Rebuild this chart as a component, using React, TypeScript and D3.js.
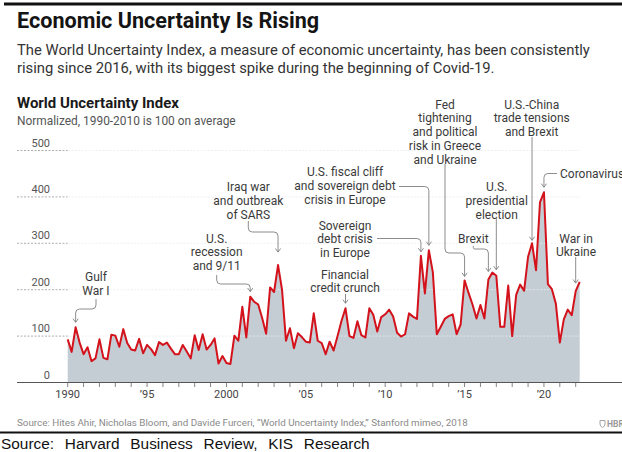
import React from "react";
import * as d3 from "d3";

// World Uncertainty Index, quarterly, 1990Q1 – 2022Q2
const START_YEAR = 1990;
const WUI_VALUES = [
  93, 66, 119, 86, 61, 76, 46, 52, 93, 53,
  50, 103, 101, 77, 115, 85, 71, 69, 94, 63,
  81, 72, 59, 87, 81, 86, 73, 61, 61, 81,
  67, 52, 102, 70, 104, 71, 81, 95, 41, 57,
  42, 40, 101, 90, 163, 97, 185, 174, 168, 139,
  105, 205, 195, 253, 200, 90, 117, 74, 106, 98,
  88, 86, 149, 90, 85, 61, 88, 69, 100, 133,
  160, 100, 96, 132, 102, 97, 160, 146, 110, 141,
  147, 157, 142, 107, 99, 104, 149, 142, 137, 273,
  192, 285, 238, 104, 120, 137, 143, 147, 104, 125,
  220, 193, 168, 138, 167, 138, 222, 237, 230, 120,
  120, 209, 100, 189, 211, 198, 271, 300, 242, 388,
  410, 212, 201, 170, 86, 136, 157, 145, 197, 217,
];

const Y_TICKS = [0, 100, 200, 300, 400, 500];
const X_TICK_YEARS = d3.range(1990, 2023);
const X_LABELS: [number, string][] = [
  [1990, "1990"],
  [1995, "\u201995"],
  [2000, "2000"],
  [2005, "\u201905"],
  [2010, "\u201910"],
  [2015, "\u201915"],
  [2020, "\u201920"],
];

// Event call-outs: which quarter they point at and their text
const EVENT_LABELS: string[][] = [
  ["Gulf", "War I"],
  ["U.S.", "recession", "and 9/11"],
  ["Iraq war", "and outbreak", "of SARS"],
  ["U.S. fiscal cliff", "and sovereign debt", "crisis in Europe"],
  ["Sovereign", "debt crisis", "in Europe"],
  ["Financial", "credit crunch"],
  ["Fed", "tightening", "and political", "risk in Greece", "and Ukraine"],
  ["U.S.-China", "trade tensions", "and Brexit"],
  ["Coronavirus"],
  ["U.S.", "presidential", "election"],
  ["Brexit"],
  ["War in", "Ukraine"],
];
const EVENT_QUARTER_INDEX = [2, 46, 53, 91, 89, 70, 100, 117, 120, 108, 106, 128];

// Layout of each call-out: text anchor, baseline and leader route
type Layout = {
  tx: number;
  ty: number;
  anchor: "middle" | "start";
  sx: number | null; // leader start x (null = straight above the tip)
  sy: number;
  my: number; // y of the horizontal run
  gap: number; // distance from tip to the line
};
const LAYOUT: Layout[] = [
  { tx: 96, ty: 281, anchor: "middle", sx: 96, sy: 299, my: 309, gap: 5 },
  { tx: 216.7, ty: 242.5, anchor: "middle", sx: 216.7, sy: 275, my: 284, gap: 5 },
  { tx: 248.3, ty: 191, anchor: "middle", sx: 248.3, sy: 221, my: 232, gap: 13 },
  { tx: 345, ty: 176, anchor: "middle", sx: 399, sy: 186.5, my: 186.5, gap: 5 },
  { tx: 345, ty: 229.5, anchor: "middle", sx: 377, sy: 238.5, my: 238.5, gap: 4 },
  { tx: 345, ty: 278.5, anchor: "middle", sx: null, sy: 294, my: 294, gap: 5 },
  { tx: 445, ty: 108.5, anchor: "middle", sx: 445, sy: 164, my: 253, gap: 4 },
  { tx: 531.7, ty: 108.5, anchor: "middle", sx: null, sy: 137, my: 137, gap: 3 },
  { tx: 560, ty: 177.5, anchor: "start", sx: 557, sy: 173.5, my: 173.5, gap: 5 },
  { tx: 496.7, ty: 191, anchor: "middle", sx: null, sy: 218, my: 218, gap: 6 },
  { tx: 473.3, ty: 242.5, anchor: "middle", sx: 473.3, sy: 246, my: 249, gap: 8 },
  { tx: 576, ty: 242.5, anchor: "middle", sx: null, sy: 257, my: 257, gap: 8 },
];

const W = 622;
const H = 452;
const FONT = "Roboto, 'Noto Sans', sans-serif";

function roundedPath(raw: [number, number][], r: number): string {
  const pts: [number, number][] = [];
  raw.forEach((p) => {
    const last = pts[pts.length - 1];
    if (!last || Math.abs(last[0] - p[0]) > 0.01 || Math.abs(last[1] - p[1]) > 0.01) pts.push(p);
  });
  let d = `M${pts[0][0]},${pts[0][1]}`;
  for (let k = 1; k < pts.length - 1; k++) {
    const [x0, y0] = pts[k - 1];
    const [x1, y1] = pts[k];
    const [x2, y2] = pts[k + 1];
    const d1 = Math.hypot(x1 - x0, y1 - y0);
    const d2 = Math.hypot(x2 - x1, y2 - y1);
    const rr = Math.min(r, d1 / 2, d2 / 2);
    const ax = x1 - ((x1 - x0) / d1) * rr;
    const ay = y1 - ((y1 - y0) / d1) * rr;
    const bx = x1 + ((x2 - x1) / d2) * rr;
    const by = y1 + ((y2 - y1) / d2) * rr;
    d += `L${ax},${ay}Q${x1},${y1},${bx},${by}`;
  }
  const end = pts[pts.length - 1];
  d += `L${end[0]},${end[1]}`;
  return d;
}

export default function App() {
  const data = WUI_VALUES.map((v, i) => ({ t: START_YEAR + i / 4, v }));

  const x = d3.scaleLinear().domain([1990, 2022]).range([67.7, 575.7]);
  const y = d3.scaleLinear().domain([0, 500]).range([382.5, 150.5]);

  const area = d3
    .area<{ t: number; v: number }>()
    .x((d) => x(d.t))
    .y0(y(0))
    .y1((d) => y(d.v));
  const line = d3
    .line<{ t: number; v: number }>()
    .x((d) => x(d.t))
    .y((d) => y(d.v));

  const lastX = x(data[data.length - 1].t);

  return (
    <svg
      width={W}
      height={H}
      style={{ position: "absolute", left: 0, top: 0, background: "#fff" }}
      fontFamily={FONT}
    >
      {/* frame rules */}
      <line x1={4} x2={W} y1={4} y2={4} stroke="#111" strokeWidth={3} />

      {/* headline */}
      <text x={17} y={28} fontSize={21.6} fontWeight={700} fill="#141414">
        Economic Uncertainty Is Rising
      </text>
      <text x={17} y={55} fontSize={14.8} fill="#333">
        The World Uncertainty Index, a measure of economic uncertainty, has been consistently
      </text>
      <text x={17} y={73} fontSize={14.8} fill="#333">
        rising since 2016, with its biggest spike during the beginning of Covid-19.
      </text>

      <text x={17} y={108} fontSize={15} fontWeight={700} fill="#1a1a1a">
        World Uncertainty Index
      </text>
      <text x={17} y={125} fontSize={11.9} fill="#555">
        Normalized, 1990-2010 is 100 on average
      </text>

      {/* area */}
      <path d={area(data) || ""} fill="#c4cdd4" />

      {/* gridlines */}
      {Y_TICKS.filter((t) => t > 0).map((t) => (
        <g key={t}>
          <line
            x1={17}
            x2={x(1990)}
            y1={y(t)}
            y2={y(t)}
            stroke="#9a9a9a"
            strokeWidth={0.8}
            strokeDasharray="2,1.5"
          />
          <line
            x1={x(1990)}
            x2={lastX}
            y1={y(t)}
            y2={y(t)}
            stroke="#e8ecef"
            strokeWidth={0.8}
            strokeDasharray="2,1.5"
          />
        </g>
      ))}
      {Y_TICKS.map((t) => (
        <text
          key={"yl" + t}
          x={50}
          y={y(t) - 4}
          fontSize={11}
          fill="#555"
          textAnchor="end"
        >
          {t}
        </text>
      ))}

      {/* series */}
      <path d={line(data) || ""} fill="none" stroke="#d3121c" strokeWidth={2} strokeLinejoin="round" />

      {/* x axis */}
      <line x1={17} x2={W} y1={y(0)} y2={y(0)} stroke="#555" strokeWidth={1} />
      {X_TICK_YEARS.map((yr) => (
        <line key={yr} x1={x(yr)} x2={x(yr)} y1={y(0)} y2={y(0) + 4.5} stroke="#666" strokeWidth={0.8} />
      ))}
      {X_LABELS.map(([yr, label]) => (
        <text key={label} x={x(yr)} y={397.5} fontSize={11} fill="#444" textAnchor="middle">
          {label}
        </text>
      ))}

      {/* call-outs */}
      {EVENT_LABELS.map((lines, k) => {
        const L = LAYOUT[k];
        const idx = EVENT_QUARTER_INDEX[k];
        const tipX = x(data[idx].t);
        const tipY = y(data[idx].v) - L.gap;
        const sx = L.sx === null ? tipX : L.sx;
        const pts: [number, number][] = [
          [sx, L.sy],
          [sx, L.my],
          [tipX, L.my],
          [tipX, tipY],
        ];
        return (
          <g key={k}>
            {lines.map((s, j) => (
              <text
                key={j}
                x={L.tx}
                y={L.ty + j * 13.8}
                fontSize={12}
                fill="#3a3a3a"
                textAnchor={L.anchor}
              >
                {s}
              </text>
            ))}
            <path d={roundedPath(pts, 4)} fill="none" stroke="#808080" strokeWidth={0.9} />
            <path
              d={`M${tipX - 2.6},${tipY - 3.6}L${tipX},${tipY}L${tipX + 2.6},${tipY - 3.6}`}
              fill="none"
              stroke="#808080"
              strokeWidth={0.9}
            />
          </g>
        );
      })}

      {/* source */}
      <text x={17} y={426} fontSize={9.8} fill="#8a8a8a">
        Source: Hites Ahir, Nicholas Bloom, and Davide Furceri, {"\u201CWorld Uncertainty Index,\u201D"} Stanford mimeo, 2018
      </text>
      <path d="M600,420.5h5v3.5q0,2.5-2.5,3.5q-2.5-1-2.5-3.5z" fill="none" stroke="#9a9a9a" strokeWidth={0.9} />
      <text x={607} y={426.5} fontSize={8.5} fontWeight={700} fill="#9a9a9a">
        HBR
      </text>

      <line x1={0} x2={W} y1={432.5} y2={432.5} stroke="#111" strokeWidth={2} />
      <text
        x={1}
        y={449}
        fontSize={15.4}
        fill="#111"
        fontFamily="'Liberation Sans', Arial, sans-serif"
        wordSpacing={6.5}
      >
        Source: Harvard Business Review, KIS Research
      </text>
    </svg>
  );
}
